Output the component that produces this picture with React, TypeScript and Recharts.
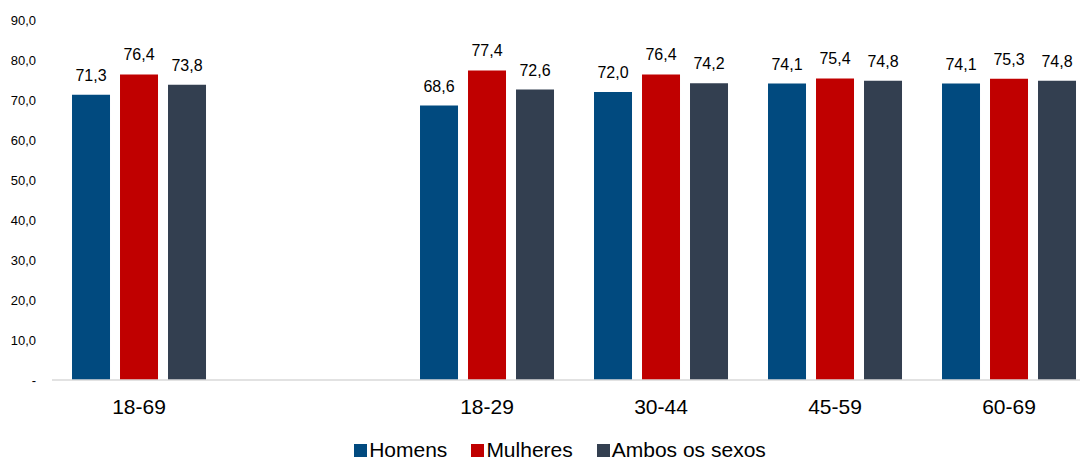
import React from 'react';
import { BarChart, Bar, XAxis, YAxis, Legend, LabelList } from 'recharts';

// Age groups; the empty one makes the gap after the total
const ageGroups = ['18-69', '', '18-29', '30-44', '45-59', '60-69'];
const seriesNames = ['Homens', 'Mulheres', 'Ambos os sexos'];
const homens = [71.3, null, 68.6, 72.0, 74.1, 74.1];
const mulheres = [76.4, null, 77.4, 76.4, 75.4, 75.3];
const ambos = [73.8, null, 72.6, 74.2, 74.8, 74.8];
const yTicks = [0, 10, 20, 30, 40, 50, 60, 70, 80, 90];

const blueColor = '#014A7F';
const redColor = '#C00000';
const slateColor = '#333F50';
const font = '"Liberation Sans", Arial, sans-serif';

const data = ageGroups.map((name, i) => ({
  name,
  Homens: homens[i],
  Mulheres: mulheres[i],
  'Ambos os sexos': ambos[i],
}));

const fmt = (v: any) => (v == null ? '' : Number(v).toFixed(1).replace('.', ','));
const fmtTick = (v: number) => (v === 0 ? '-' : v.toFixed(1).replace('.', ','));

const renderLegend = (props: any) => {
  const items = [...props.payload].sort(
    (a: any, b: any) => seriesNames.indexOf(a.value) - seriesNames.indexOf(b.value)
  );
  return (
    <div style={{ display: 'flex', justifyContent: 'center', fontFamily: font, fontSize: 21, color: '#000', lineHeight: '24px', paddingTop: 4 }}>
      {items.map((item: any, i: number) => (
        <div key={item.value} style={{ display: 'flex', alignItems: 'center', marginLeft: i === 0 ? 0 : 24 }}>
          <span style={{ width: 13, height: 13, background: item.color, marginRight: 2, display: 'inline-block' }} />
          <span>{item.value}</span>
        </div>
      ))}
    </div>
  );
};

const labelStyle = { fontSize: 16, fill: '#000', fontFamily: font };

export default function App() {
  return (
    <div style={{ position: 'absolute', left: 0, top: 0, width: 1080, height: 462, overflow: 'hidden', background: '#fff' }}>
      <BarChart
        width={1100}
        height={462}
        data={data}
        margin={{ top: 20, right: 4, left: 0, bottom: 0 }}
        barCategoryGap="11.5%"
        barGap={10}
      >
        <XAxis
          dataKey="name"
          axisLine={{ stroke: '#D9D9D9', strokeWidth: 1.5 }}
          tickLine={false}
          height={54}
          tick={{ fontSize: 21, fill: '#000', fontFamily: font, dy: 11 }}
          interval={0}
        />
        <YAxis
          domain={[0, 90]}
          ticks={yTicks}
          width={52}
          axisLine={false}
          tickLine={false}
          tickFormatter={fmtTick}
          tick={{ fontSize: 13, fill: '#000', fontFamily: font, dx: -8 }}
        />
        <Legend verticalAlign="bottom" content={renderLegend} wrapperStyle={{ left: 12 }} />
        <Bar dataKey="Homens" fill={blueColor} isAnimationActive={false}>
          <LabelList dataKey="Homens" position="top" offset={14} formatter={fmt} style={labelStyle} />
        </Bar>
        <Bar dataKey="Mulheres" fill={redColor} isAnimationActive={false}>
          <LabelList dataKey="Mulheres" position="top" offset={14} formatter={fmt} style={labelStyle} />
        </Bar>
        <Bar dataKey="Ambos os sexos" fill={slateColor} isAnimationActive={false}>
          <LabelList dataKey="Ambos os sexos" position="top" offset={14} formatter={fmt} style={labelStyle} />
        </Bar>
      </BarChart>
    </div>
  );
}
